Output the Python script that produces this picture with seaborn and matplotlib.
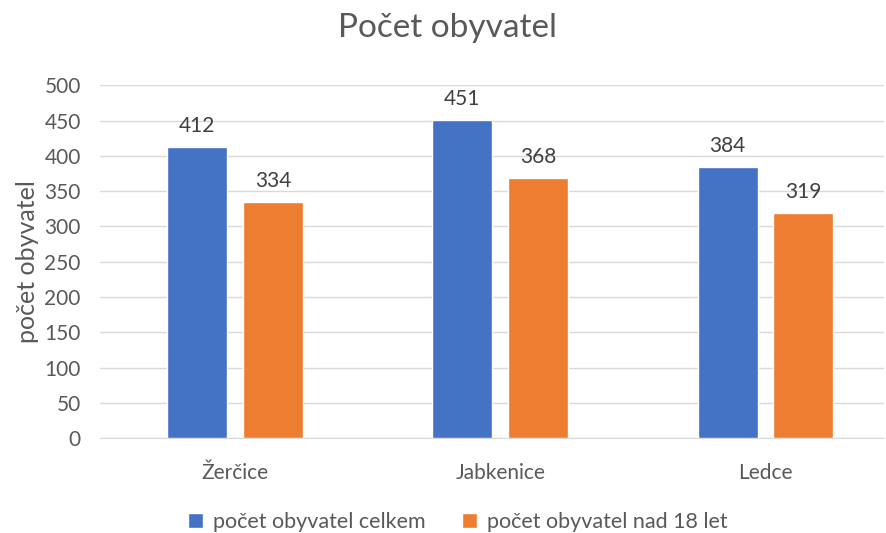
import pandas as pd
import matplotlib.pyplot as plt
import seaborn as sns

obce = ["Žerčice", "Jabkenice", "Ledce"]
celkem = [412, 451, 384]
nad18 = [334, 368, 319]
serie = ["počet obyvatel celkem", "počet obyvatel nad 18 let"]

df = pd.DataFrame({
    "obec": obce * 2,
    "hodnota": celkem + nad18,
    "serie": [serie[0]] * 3 + [serie[1]] * 3,
})

sns.set_style("white")
plt.rcParams["font.family"] = ["Lato", "DejaVu Sans"]
txt = "#595959"

fig, ax = plt.subplots(figsize=(8.87, 5.33), dpi=100)
fig.subplots_adjust(left=0.113, right=0.997, top=0.84, bottom=0.178)

sns.barplot(data=df, x="obec", y="hodnota", hue="serie",
            palette=["#4472C4", "#ED7D31"], saturation=1,
            width=0.572, gap=0.21, ax=ax, zorder=3)

for cont in ax.containers:
    ax.bar_label(cont, padding=8, fontsize=15, color="#404040")

ax.set_ylim(0, 500)
ax.set_xlim(-0.508, 2.448)
ax.set_yticks(range(0, 501, 50))
ax.yaxis.grid(True, color="#D9D9D9", linewidth=1, zorder=0)
for s in ["top", "right", "left"]:
    ax.spines[s].set_visible(False)
ax.spines["bottom"].set_color("#D9D9D9")
ax.tick_params(axis="y", colors=txt, labelsize=15, length=0, pad=14)
ax.tick_params(axis="x", colors=txt, labelsize=15, length=0, pad=18)
ax.set_xlabel("")
ax.set_ylabel("počet obyvatel", fontsize=18, color=txt, labelpad=4)
fig.suptitle("Počet obyvatel", fontsize=24, color=txt, x=0.505, y=0.975)

ax.get_legend().remove()
handles, labels = ax.get_legend_handles_labels()
fig.legend(handles, labels, loc="center", bbox_to_anchor=(0.516, 0.02), ncol=2,
           frameon=False, fontsize=15.5, labelcolor=txt, handlelength=0.7,
           handleheight=0.7, columnspacing=1.7, handletextpad=0.45)

plt.savefig("out.png", dpi=100)
